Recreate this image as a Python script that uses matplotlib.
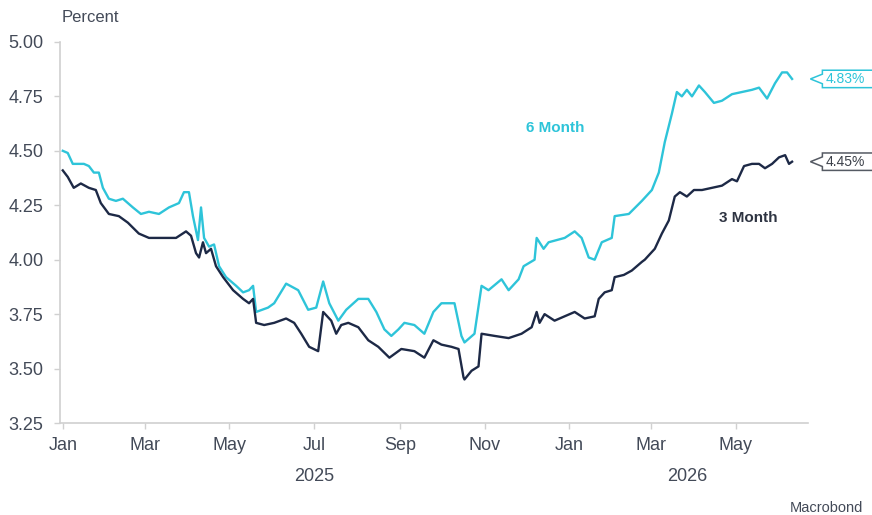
import pandas as pd
import numpy as np
import matplotlib
matplotlib.use("Agg")
import matplotlib.pyplot as plt
import matplotlib.dates as mdates
from matplotlib.patches import Polygon

plt.rcParams['font.family'] = ['Liberation Sans', 'DejaVu Sans']

start = pd.Timestamp("2025-01-01")

# days since 2025-01-01 and yield (percent)
six_days = [0, 3.6, 7.2, 15.2, 18.8, 22.4, 26, 28.9, 33.2, 38.3, 43.3, 50.5, 56.3, 62.1,
            69.3, 76.5, 83.7, 87.3, 90.9, 93.8, 97.4, 99.6, 101.8, 105.4, 109, 112.6,
            117.6, 124.9, 129.9, 134.2, 137.1, 139.3, 147.9, 152.3, 160.9, 169.6, 176.8,
            182.6, 187.6, 192, 198.5, 204.2, 212.9, 220.1, 225.9, 231.7, 236.7, 241.8,
            246.1, 253.3, 260.5, 267, 272.8, 282.2, 287.2, 289.4, 296.6, 301.7, 306.7,
            316.1, 321.2, 328.4, 332, 339.9, 341.4, 346.4, 350, 361.6, 368.8, 373.8,
            378.9, 383.2, 388.3, 395.5, 397.6, 407.8, 417.2, 424.4, 429.4, 433.7, 438.8,
            442.4, 446, 449.6, 453.3, 458.3, 462.6, 469.1, 474.9, 482.1, 489.3, 496.5,
            501.6, 507.4, 513.1, 518.2, 521.8, 525.4]
six_month = [4.50, 4.49, 4.44, 4.44, 4.43, 4.40, 4.40, 4.33, 4.28, 4.27, 4.28, 4.24, 4.21, 4.22,
             4.21, 4.24, 4.26, 4.31, 4.31, 4.20, 4.09, 4.24, 4.10, 4.06, 4.07, 3.97,
             3.92, 3.88, 3.85, 3.86, 3.88, 3.76, 3.78, 3.80, 3.89, 3.86, 3.77,
             3.78, 3.90, 3.80, 3.72, 3.77, 3.82, 3.82, 3.76, 3.68, 3.65, 3.68,
             3.71, 3.70, 3.66, 3.76, 3.80, 3.80, 3.65, 3.62, 3.66, 3.88, 3.86,
             3.91, 3.86, 3.91, 3.97, 4.00, 4.10, 4.05, 4.08, 4.10, 4.13, 4.10,
             4.01, 4.00, 4.08, 4.10, 4.20, 4.21, 4.27, 4.32, 4.40, 4.54, 4.67,
             4.77, 4.75, 4.78, 4.75, 4.80, 4.77, 4.72, 4.73, 4.76, 4.77, 4.78,
             4.79, 4.74, 4.81, 4.86, 4.86, 4.83]

three_days = [0, 3.6, 7.9, 13, 18.8, 23.8, 27.4, 33.2, 40.4, 46.9, 54.8, 62.1, 72.2, 81.6,
              88.8, 92.4, 96, 98.2, 101, 103.2, 106.8, 110.4, 115.5, 122.7, 129.9, 134.2,
              137.1, 139.3, 145.1, 152.3, 160.9, 166.7, 171.8, 177.5, 184, 187.6, 193.4,
              197, 200.6, 205.7, 212.9, 220.1, 227.3, 235.3, 243.9, 253.3, 260.5, 267,
              272.8, 280, 285.1, 288.7, 289.4, 294.5, 299.5, 301.7, 311.1, 321.2, 330.5,
              337.8, 341.4, 343.5, 347.1, 354.3, 368.8, 376, 383.2, 386.1, 390.4, 395.5,
              397.6, 404.2, 409.9, 417.2, 419.3, 426.5, 431.6, 436.6, 440.9, 444.6, 449.6,
              454.7, 460.5, 467.7, 474.9, 482.1, 485.7, 490.8, 496.5, 501.6, 505.9, 511,
              516, 520.4, 523.2, 525.4]
three_month = [4.41, 4.38, 4.33, 4.35, 4.33, 4.32, 4.26, 4.21, 4.20, 4.17, 4.12, 4.10, 4.10, 4.10,
               4.13, 4.11, 4.03, 4.01, 4.08, 4.03, 4.05, 3.97, 3.92, 3.86, 3.82, 3.80,
               3.82, 3.71, 3.70, 3.71, 3.73, 3.71, 3.66, 3.60, 3.58, 3.76, 3.72,
               3.66, 3.70, 3.71, 3.69, 3.63, 3.60, 3.55, 3.59, 3.58, 3.55, 3.63,
               3.61, 3.60, 3.59, 3.46, 3.45, 3.49, 3.51, 3.66, 3.65, 3.64, 3.66,
               3.69, 3.76, 3.71, 3.75, 3.72, 3.76, 3.73, 3.74, 3.82, 3.85, 3.86,
               3.92, 3.93, 3.95, 3.99, 4.00, 4.05, 4.12, 4.18, 4.29, 4.31, 4.29,
               4.32, 4.32, 4.33, 4.34, 4.37, 4.36, 4.43, 4.44, 4.44, 4.42, 4.44,
               4.47, 4.48, 4.44, 4.45]

six_dates = start + pd.to_timedelta(six_days, unit="D")
three_dates = start + pd.to_timedelta(three_days, unit="D")

cyan = "#2ec4d9"
navy = "#1d2946"
grey_txt = "#434a58"
spine_c = "#d0d0d0"

fig = plt.figure(figsize=(8.72, 5.15), dpi=100)
ax = fig.add_axes([0.0688, 0.1786, 0.858, 0.740])

ax.plot(six_dates, six_month, color=cyan, linewidth=1.7, zorder=3)
ax.plot(three_dates, three_month, color=navy, linewidth=1.7, zorder=4)

ax.set_ylim(3.25, 5.0)
ax.set_yticks([3.25, 3.5, 3.75, 4.0, 4.25, 4.5, 4.75, 5.0])
ax.set_yticklabels(["3.25", "3.50", "3.75", "4.00", "4.25", "4.50", "4.75", "5.00"])
ax.set_xlim(pd.Timestamp("2024-12-30"), pd.Timestamp("2026-06-22"))

ax.xaxis.set_major_locator(mdates.MonthLocator(bymonth=[1, 3, 5, 7, 9, 11]))
ax.xaxis.set_major_formatter(mdates.DateFormatter("%b"))

for s in ["top", "right"]:
    ax.spines[s].set_visible(False)
for s in ["left", "bottom"]:
    ax.spines[s].set_color(spine_c)
    ax.spines[s].set_linewidth(1.2)
ax.tick_params(axis="both", colors=spine_c, length=4, width=1, labelsize=13,
               labelcolor=grey_txt)
ax.tick_params(axis="x", pad=6)
ax.tick_params(axis="y", pad=8)

# year labels centred under the visible part of each year
ax.text(mdates.date2num(pd.Timestamp("2025-07-01")), -0.14, "2025", transform=ax.get_xaxis_transform(),
        ha="center", va="center", fontsize=13, color=grey_txt)
ax.text(mdates.date2num(pd.Timestamp("2026-03-27")), -0.14, "2026", transform=ax.get_xaxis_transform(),
        ha="center", va="center", fontsize=13, color=grey_txt)

fig.text(62 / 872, 1 - 17 / 515, "Percent", ha="left", va="center", fontsize=12, color=grey_txt)
fig.text(826 / 872, 1 - 508 / 515, "Macrobond", ha="center", va="center", fontsize=10.5, color=grey_txt)

ax.text(pd.Timestamp("2025-12-22"), 4.605, "6 Month", color=cyan, fontsize=11, fontweight="bold",
        ha="center", va="center")
ax.text(pd.Timestamp("2026-05-10"), 4.19, "3 Month", color="#2e3442", fontsize=11, fontweight="bold",
        ha="center", va="center")

# value tags on the right edge
tr = ax.get_yaxis_transform()
for val, col, txtcol in [(six_month[-1], cyan, cyan), (three_month[-1], "#555a63", "#3a3f48")]:
    h = 0.04
    pts = [(1.003, val), (1.019, val + 0.022), (1.019, val + h), (1.088, val + h),
           (1.088, val - h), (1.019, val - h), (1.019, val - 0.022)]
    ax.add_patch(Polygon(pts, closed=True, transform=tr, facecolor="white", edgecolor=col,
                         linewidth=1.1, clip_on=False, zorder=5))
    ax.text(1.049, val, f"{val:.2f}%", transform=tr, ha="center", va="center", fontsize=10,
            color=txtcol, zorder=6)

fig.savefig("out.png", dpi=100)
